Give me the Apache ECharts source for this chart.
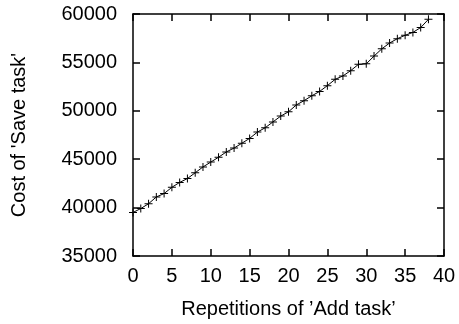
<!DOCTYPE html>
<html>
    <head>
        <meta charset="utf-8">
        <style>
            html, body { margin: 0; padding: 0; background: #fff; }
        </style>
    </head>
    <body>
        <div id="main" style="width: 459px; height: 324px"></div>

        <script type="text/javascript" src="https://cdn.jsdelivr.net/npm/echarts@6/dist/echarts.min.js"></script>
        <script type="text/javascript">

            // repetitions of 'Add task'
            var repetitions = [0, 1, 2, 3, 4, 5, 6, 7, 8, 9,
                               10, 11, 12, 13, 14, 15, 16, 17, 18, 19,
                               20, 21, 22, 23, 24, 25, 26, 27, 28, 29,
                               30, 31, 32, 33, 34, 35, 36, 37, 38];

            // cost of 'Save task'
            var saveCost = [39500, 39900, 40400, 41100, 41450, 42100, 42600, 43000, 43600, 44200,
                            44700, 45200, 45750, 46150, 46650, 47150, 47800, 48250, 48850, 49450,
                            49900, 50600, 51050, 51550, 52000, 52600, 53250, 53600, 54150, 54800,
                            54850, 55650, 56400, 57000, 57450, 57800, 58100, 58600, 59450];

            var xTicks = [0, 5, 10, 15, 20, 25, 30, 35, 40];
            var yTicks = [35000, 40000, 45000, 50000, 55000, 60000];

            var chartDom = document.getElementById('main');
            var myChart = echarts.init(chartDom);
            var option;

            var points = [];
            for (let i = 0; i < repetitions.length; i++) {
                points.push([repetitions[i], saveCost[i]]);
            }

            var font = 'Liberation Sans, Arial, sans-serif';
            var frame = { show: true, onZero: false, lineStyle: { color: '#000', width: 1.5 } };
            var ticks = { show: true, inside: true, length: 7, lineStyle: { color: '#000', width: 1.5 } };

            function xAxisBase(pos, labels) {
                return {
                    type: 'value',
                    position: pos,
                    min: xTicks[0],
                    max: xTicks[xTicks.length - 1],
                    interval: xTicks[1] - xTicks[0],
                    axisLine: frame,
                    axisTick: ticks,
                    splitLine: { show: false },
                    axisLabel: { show: labels, color: '#000', fontFamily: font, fontSize: 20, margin: 10,
                                 formatter: function (v) { return String(v); } }
                };
            }

            function yAxisBase(pos, labels) {
                return {
                    type: 'value',
                    position: pos,
                    min: yTicks[0],
                    max: yTicks[yTicks.length - 1],
                    interval: yTicks[1] - yTicks[0],
                    axisLine: frame,
                    axisTick: ticks,
                    splitLine: { show: false },
                    axisLabel: { show: labels, color: '#000', fontFamily: font, fontSize: 20, margin: 16,
                                 formatter: function (v) { return String(v); } }
                };
            }

            var xBottom = xAxisBase('bottom', true);
            xBottom.name = "Repetitions of \u2019Add task\u2019";
            xBottom.nameLocation = 'middle';
            xBottom.nameGap = 43;
            xBottom.nameTextStyle = { color: '#000', fontFamily: font, fontSize: 20 };

            var yLeft = yAxisBase('left', true);
            yLeft.name = "Cost of 'Save task'";
            yLeft.nameLocation = 'middle';
            yLeft.nameGap = 104;
            yLeft.nameTextStyle = { color: '#000', fontFamily: font, fontSize: 20 };

            option = {
                animation: false,
                grid: { left: 133, right: 15, top: 14, bottom: 68, containLabel: false, outerBoundsMode: 'none' },
                xAxis: [xBottom, xAxisBase('top', false)],
                yAxis: [yLeft, yAxisBase('right', false)],
                series: [{
                    type: 'line',
                    data: points,
                    xAxisIndex: 0,
                    yAxisIndex: 0,
                    symbol: 'path://M3.5,0h1v8h-1z M0,3.5h8v1h-8z',
                    symbolSize: 8,
                    showAllSymbol: true,
                    itemStyle: { color: '#000' },
                    lineStyle: { color: '#000', width: 1 }
                }]
            };

            option && myChart.setOption(option);

        </script>
    </body>
</html>
